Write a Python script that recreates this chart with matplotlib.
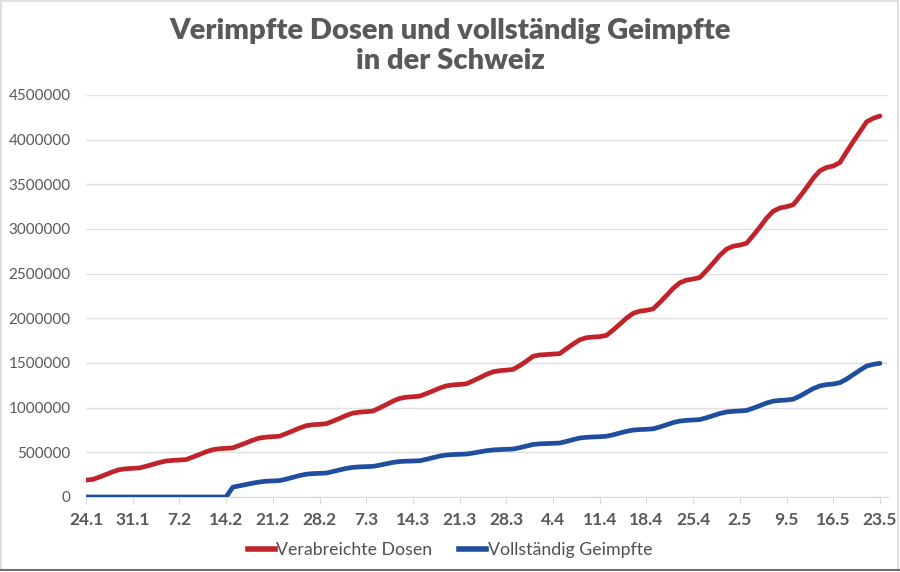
import matplotlib
matplotlib.use("Agg")
import matplotlib.pyplot as plt
from matplotlib.lines import Line2D
import datetime as dt

# ---- data (daily, 24.1.2021 - 23.5.2021) ----
start_date = dt.date(2021, 1, 24)
verabreichte_dosen = [
    190000, 196000, 223000, 252000, 282000, 306000, 316000,
    321000, 325000, 344000, 365000, 386000, 403000, 410000,
    414000, 419000, 447000, 476000, 506000, 530000, 540000,
    545000, 550000, 578000, 606000, 636000, 660000, 670000,
    675000, 681000, 710000, 740000, 772000, 798000, 809000,
    814000, 820000, 849000, 880000, 913000, 939000, 950000,
    955000, 962000, 997000, 1034000, 1073000, 1103000, 1117000,
    1123000, 1129000, 1157000, 1187000, 1219000, 1244000, 1255000,
    1260000, 1267000, 1300000, 1335000, 1372000, 1401000, 1414000,
    1420000, 1428000, 1470000, 1520000, 1575000, 1590000, 1595000,
    1600000, 1605000, 1660000, 1712000, 1760000, 1783000, 1791000,
    1795000, 1809000, 1869000, 1934000, 2002000, 2056000, 2080000,
    2090000, 2106000, 2178000, 2255000, 2335000, 2398000, 2428000,
    2440000, 2457000, 2535000, 2619000, 2706000, 2775000, 2807000,
    2820000, 2840000, 2928000, 3022000, 3121000, 3199000, 3236000,
    3250000, 3272000, 3364000, 3464000, 3569000, 3652000, 3689000,
    3705000, 3745000, 3865000, 3980000, 4090000, 4200000, 4240000,
    4265000,
]
vollstaendig_geimpfte = [
    0, 0, 0, 0, 0, 0, 0,
    0, 0, 0, 0, 0, 0, 0,
    0, 0, 0, 0, 0, 0, 0,
    0, 110000, 125000, 140000, 155000, 168000, 177000,
    180000, 184000, 200000, 220000, 240000, 255000, 262000,
    265000, 268000, 285000, 303000, 320000, 332000, 337000,
    340000, 343000, 356000, 372000, 387000, 397000, 401000,
    403000, 406000, 422000, 440000, 458000, 470000, 475000,
    478000, 481000, 492000, 505000, 518000, 527000, 531000,
    534000, 537000, 552000, 570000, 588000, 595000, 598000,
    601000, 604000, 622000, 642000, 660000, 668000, 672000,
    675000, 680000, 696000, 716000, 735000, 749000, 755000,
    758000, 763000, 784000, 808000, 833000, 850000, 858000,
    862000, 867000, 887000, 911000, 935000, 952000, 959000,
    963000, 969000, 994000, 1023000, 1052000, 1073000, 1081000,
    1086000, 1095000, 1130000, 1172000, 1214000, 1244000, 1258000,
    1265000, 1280000, 1320000, 1370000, 1420000, 1466000, 1485000,
    1497000,
]
tick_labels = ["24.1", "31.1", "7.2", "14.2", "21.2", "28.2", "7.3", "14.3", "21.3",
               "28.3", "4.4", "11.4", "18.4", "25.4", "2.5", "9.5", "16.5", "23.5"]
y_ticks = [0, 500000, 1000000, 1500000, 2000000, 2500000, 3000000, 3500000, 4000000, 4500000]
series_names = ["Verabreichte Dosen", "Vollständig Geimpfte"]

days = list(range(len(verabreichte_dosen)))

RED = "#c0232a"
BLUE = "#1f4e9e"
TXT = "#595959"

plt.rcParams['font.family'] = ['Lato', 'DejaVu Sans']

fig = plt.figure(figsize=(9, 5.72), dpi=100)
ax = fig.add_axes([86/900, 1-497/572, 802/900, (497-95)/572])

ax.plot(days, verabreichte_dosen, color=RED, lw=3.4, solid_capstyle='round', solid_joinstyle='round', zorder=3)
ax.plot(days, vollstaendig_geimpfte, color=BLUE, lw=3.4, solid_capstyle='round', solid_joinstyle='round', zorder=3)

ax.set_xlim(0, 120.2)
ax.set_ylim(0, 4500000)
ax.set_yticks(y_ticks)
ax.set_yticklabels([str(v) for v in y_ticks], fontsize=11, color=TXT)
ax.set_xticks(list(range(0, len(verabreichte_dosen), 7)))
ax.set_xticklabels(tick_labels, fontsize=12.5, color=TXT, fontweight='bold')

ax.grid(axis='y', color='#e0e0e0', lw=1)
ax.set_axisbelow(True)
for s in ['top', 'right', 'left']:
    ax.spines[s].set_visible(False)
ax.spines['bottom'].set_color('#d9d9d9')
ax.spines['bottom'].set_zorder(1)
ax.tick_params(axis='y', length=0, pad=11)
ax.tick_params(axis='x', length=5, color='#d9d9d9', pad=6)

fig.text(0.5, 1-46/572, "Verimpfte Dosen und vollständig Geimpfte\nin der Schweiz",
         ha='center', va='center', fontsize=21, fontweight='heavy', color=TXT, linespacing=1.2)

handles = [Line2D([], [], color=RED, lw=4), Line2D([], [], color=BLUE, lw=4)]
fig.legend(handles, series_names, loc='center', bbox_to_anchor=(0.5, 1-550/572), ncol=2,
           frameon=False, fontsize=12.8, handlelength=1.5, handletextpad=0.1, columnspacing=1.5,
           labelcolor='#505050')

# frame
fig.add_artist(plt.Rectangle((0.001, 0.004), 0.997, 0.994, transform=fig.transFigure,
                             fill=False, edgecolor='#d9d9d9', lw=1.2))
fig.add_artist(Line2D([0, 1], [0.004, 0.004], transform=fig.transFigure, color='#707070', lw=1.5))

fig.savefig("out.png", dpi=100)
